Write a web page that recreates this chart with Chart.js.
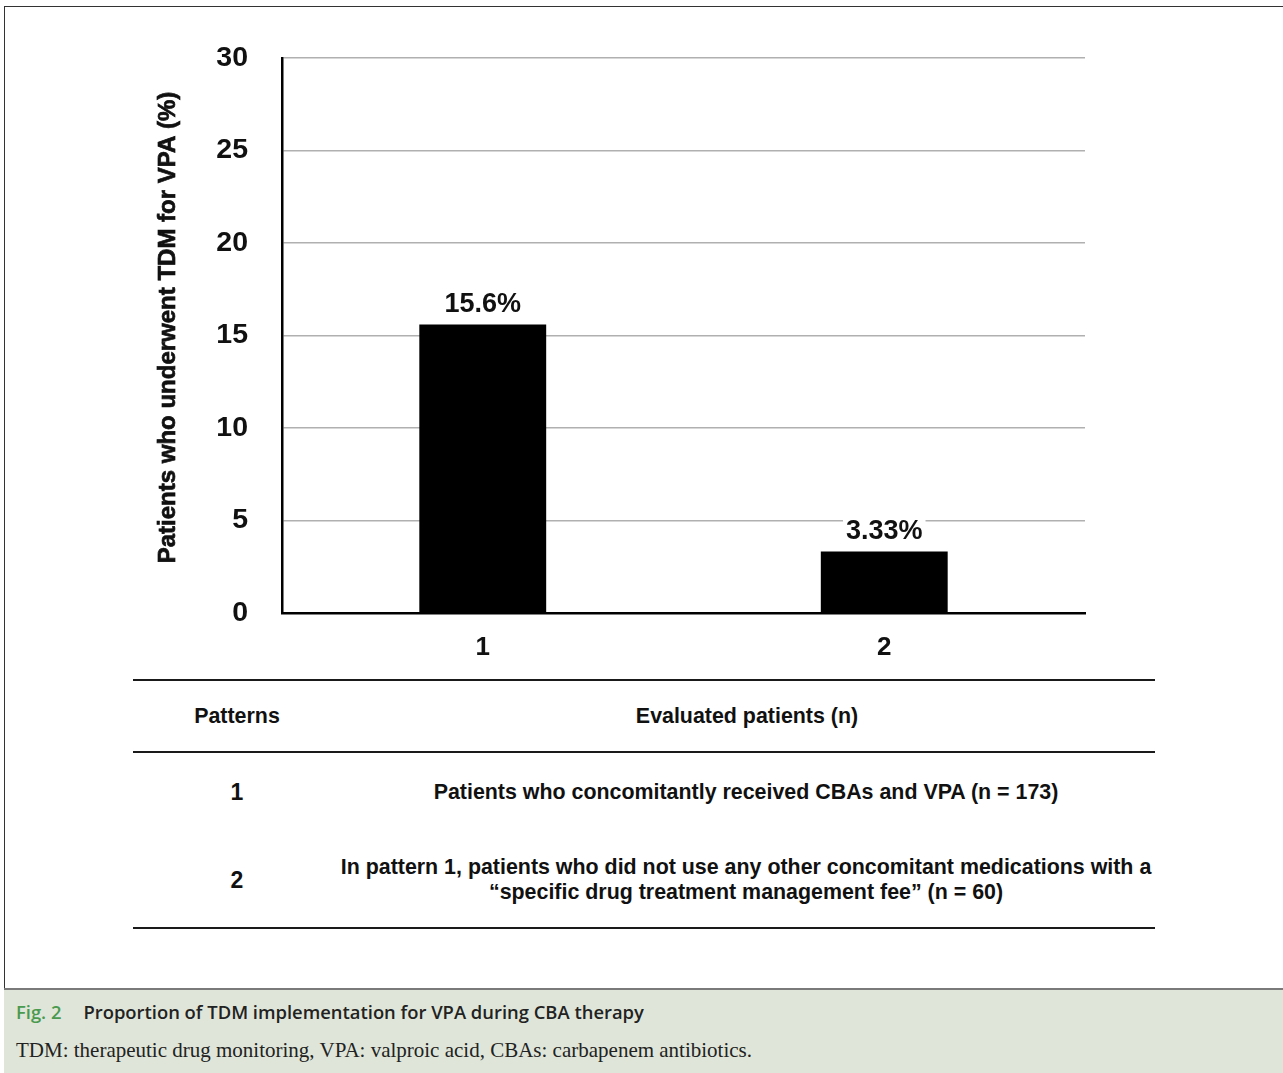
<!DOCTYPE html>
<html>
<head>
<meta charset="utf-8">
<script src="https://cdn.jsdelivr.net/npm/chart.js@4.4.1/dist/chart.umd.min.js"></script>
<style>
  html, body { margin: 0; padding: 0; background: #fff; }
  #page { position: relative; width: 1283px; height: 1073px; overflow: hidden; }
  #frame { position: absolute; left: 4px; top: 6px; width: 1300px; height: 1100px;
           border-left: 1.5px solid #333; border-top: 1.5px solid #333; }
  #chartBox { position: absolute; left: 0; top: 0; width: 1283px; height: 680px; }
  .rule { position: absolute; left: 133px; width: 1022px; height: 2px; background: #1a1a1a; }
  .cell { position: absolute; font-family: "Liberation Sans", Arial, sans-serif; font-weight: bold;
          font-size: 21.4px; color: #111; text-align: center; line-height: 25px; transform: translate(-50%, -50%); white-space: nowrap; }
  #caption { position: absolute; left: 4px; top: 988px; width: 1300px; height: 90px;
             background: #dfe6d9; border-top: 2px solid #7a7a7a; }
  #capTitle { position: absolute; left: 12px; top: 9px; font-family: "Open Sans", sans-serif; font-weight: 600;
              font-size: 18.4px; color: #222; white-space: nowrap; }
  #capTitle .fig { color: #4a9a4f; margin-right: 22px; }
  #capNote { position: absolute; left: 12px; top: 48px; font-family: "Liberation Serif", "Times New Roman", serif;
             font-size: 21px; color: #222; white-space: nowrap; }
</style>
</head>
<body>
<div id="page">
  <div id="frame"></div>
  <div id="chartBox"><canvas id="chartTdm" width="1283" height="680"></canvas></div>
  <div id="table"></div>
  <div id="caption">
    <div id="capTitle"><span class="fig">Fig. 2</span>Proportion of TDM implementation for VPA during CBA therapy</div>
    <div id="capNote">TDM: therapeutic drug monitoring, VPA: valproic acid, CBAs: carbapenem antibiotics.</div>
  </div>
</div>
<script>
// chart data
const categories = ['1', '2'];
const tdmRates = [15.6, 3.33];
const rateLabels = ['15.6%', '3.33%'];
const yTicks = [0, 5, 10, 15, 20, 25, 30];
const yTitle = 'Patients who underwent TDM for VPA (%)';

// table under the chart
const tableHeaders = ['Patterns', 'Evaluated patients (n)'];
const patterns = ['1', '2'];
const patternDescriptions = [
  'Patients who concomitantly received CBAs and VPA (n = 173)',
  'In pattern 1, patients who did not use any other concomitant medications with a<br>\u201cspecific drug treatment management fee\u201d (n = 60)'
];

const FONT = '"Liberation Sans", Arial, sans-serif';

// labels above the bars, with a white box so the grid line breaks behind them
const barLabels = {
  id: 'barLabels',
  afterDatasetsDraw(chart) {
    const ctx = chart.ctx;
    const meta = chart.getDatasetMeta(0);
    ctx.save();
    ctx.font = 'bold 27px ' + FONT;
    ctx.textAlign = 'center';
    ctx.textBaseline = 'middle';
    meta.data.forEach((bar, i) => {
      const txt = rateLabels[i];
      const w = ctx.measureText(txt).width;
      const y = bar.y - 20;
      ctx.fillStyle = '#fff';
      ctx.fillRect(bar.x - w / 2 - 3, y - 13, w + 6, 26);
      ctx.fillStyle = '#111';
      ctx.fillText(txt, bar.x, y);
    });
    ctx.restore();
  }
};

// rotated y axis title, bold, placed a little above the plot centre like the original
const yTitlePlugin = {
  id: 'yTitlePlugin',
  afterDraw(chart) {
    const ctx = chart.ctx;
    const a = chart.chartArea;
    ctx.save();
    ctx.translate(168, (a.top + a.bottom) / 2 - 8);
    ctx.rotate(-Math.PI / 2);
    ctx.font = 'bold 24px ' + FONT;
    ctx.textAlign = 'center';
    ctx.textBaseline = 'middle';
    ctx.fillStyle = '#111';
    ctx.strokeStyle = '#111';
    ctx.lineWidth = 0.7;
    ctx.fillText(yTitle, 0, 0);
    ctx.strokeText(yTitle, 0, 0);
    ctx.restore();
  }
};

const ctx = document.getElementById('chartTdm').getContext('2d');
const chart = new Chart(ctx, {
  type: 'bar',
  data: {
    labels: categories,
    datasets: [{ data: tdmRates, backgroundColor: '#000', borderWidth: 0,
                 categoryPercentage: 1, barPercentage: 0.316 }]
  },
  options: {
    responsive: false,
    animation: false,
    layout: { padding: { left: 150, top: 58, right: 198, bottom: 0 } },
    plugins: { legend: { display: false }, tooltip: { enabled: false } },
    scales: {
      x: {
        afterFit(s) { s.height = 67; },
        grid: { display: false, drawTicks: false },
        border: { color: '#000', width: 2.5 },
        ticks: { color: '#111', padding: 19, font: { family: FONT, size: 26, weight: 'bold' } }
      },
      y: {
        min: 0, max: 30,
        afterFit(s) { s.width = 132; },
        afterBuildTicks(s) { s.ticks = yTicks.map(v => ({ value: v })); },
        grid: { drawTicks: false, lineWidth: 1.5,
                color: c => c.tick && c.tick.value === 0 ? 'rgba(0,0,0,0)' : '#b0b0b0' },
        border: { color: '#000', width: 2.5 },
        ticks: { color: '#111', padding: 34, font: { family: FONT, size: 28.5, weight: 'bold' } }
      }
    }
  },
  plugins: [barLabels, yTitlePlugin]
});

// table built from the arrays
const table = document.getElementById('table');
function rule(y) {
  const d = document.createElement('div');
  d.className = 'rule';
  d.style.top = y + 'px';
  table.appendChild(d);
}
function cell(x, y, html) {
  const d = document.createElement('div');
  d.className = 'cell';
  d.style.left = x + 'px';
  d.style.top = y + 'px';
  d.innerHTML = html;
  table.appendChild(d);
  return d;
}
rule(679);
rule(751);
rule(927);
cell(237, 716, tableHeaders[0]);
cell(747, 716, tableHeaders[1]);
const rowY = [792, 880];
patterns.forEach((p, i) => {
  cell(237, rowY[i], p).style.fontSize = '23px';
  cell(746, rowY[i], patternDescriptions[i]);
});
</script>
</body>
</html>
